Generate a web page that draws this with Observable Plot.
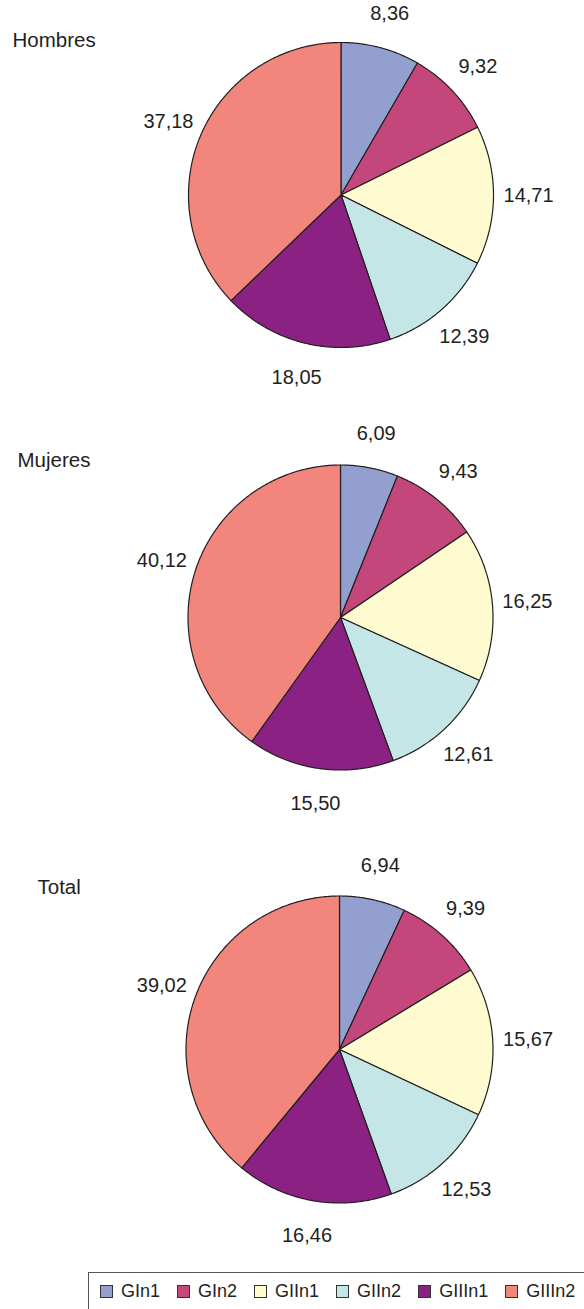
<!DOCTYPE html>
<html>
<head>
<meta charset="utf-8">
<script src="https://cdn.jsdelivr.net/npm/d3@7"></script>
<script src="https://cdn.jsdelivr.net/npm/@observablehq/plot@0.6"></script>
<style>
  html, body { margin: 0; padding: 0; background: #fff; overflow: hidden; }
  #wrap { width: 584px; font-family: "Liberation Sans", Arial, Helvetica, sans-serif; }
  #wrap svg { display: block; }
  .legend {
    margin-left: 88px; width: 520px; height: 50px; box-sizing: border-box;
    border: 1.5px solid #555; display: flex; align-items: center;
    padding-left: 11px; padding-bottom: 11px; font-size: 18px; color: #231f20;
  }
  .legend .item { display: flex; align-items: center; margin-right: 17px; }
  .legend .sw { width: 11px; height: 11px; border: 1px solid #333; margin-right: 8px; }
</style>
</head>
<body>
<div id="wrap"></div>
<script>
const categories = ["GIn1", "GIn2", "GIIn1", "GIIn2", "GIIIn1", "GIIIn2"];
const colors = ["#939fcf", "#c4477b", "#fffbd0", "#c4e6e6", "#8b2283", "#f2857c"];
const groups = ["Hombres", "Mujeres", "Total"];
const hombres = [8.36, 9.32, 14.71, 12.39, 18.05, 37.18];
const mujeres = [6.09, 9.43, 16.25, 12.61, 15.50, 40.12];
const total = [6.94, 9.39, 15.67, 12.53, 16.46, 39.02];
const seriesValues = [hombres, mujeres, total];

// layout only (pixels)
const layouts = [
  {height: 420, cx: 340.5, cy: 194.5, r: 152.5, tx: 12, ty: 46},
  {height: 420, cx: 340, cy: 197, r: 152.5, tx: 17, ty: 46},
  {height: 432, cx: 339, cy: 209, r: 153.5, tx: 37, ty: 53}
];

const fmt = v => d3.format(".2f")(v).replace(".", ",");

function piePlot(title, values, L) {
  const data = values.map((v, i) => ({key: categories[i], value: v}));
  const arcs = d3.pie().sort(null).value(d => d.value)(data);
  const pts = [];
  for (const a of arcs) {
    const n = Math.max(2, Math.ceil((a.endAngle - a.startAngle) * 180 / Math.PI * 2));
    pts.push({key: a.data.key, x: 0, y: 0});
    for (let k = 0; k <= n; k++) {
      const t = a.startAngle + (a.endAngle - a.startAngle) * k / n;
      pts.push({key: a.data.key, x: Math.sin(t), y: Math.cos(t)});
    }
    pts.push({key: a.data.key, x: 0, y: 0});
  }
  const labels = arcs.map(a => {
    const m = (a.startAngle + a.endAngle) / 2;
    return {x: 1.23 * Math.sin(m), y: 1.23 * Math.cos(m), text: fmt(a.data.value)};
  });
  return Plot.plot({
    width: 584,
    height: L.height,
    margin: 0,
    style: {fontFamily: '"Liberation Sans", Arial, Helvetica, sans-serif', background: "#fff"},
    x: {domain: [-1, 1], range: [L.cx - L.r, L.cx + L.r], axis: null},
    y: {domain: [-1, 1], range: [L.cy + L.r, L.cy - L.r], axis: null},
    color: {domain: categories, range: colors},
    marks: [
      Plot.line(pts, {x: "x", y: "y", z: "key", fill: "key", stroke: "#231f20", strokeWidth: 1.2, strokeLinejoin: "round", curve: "linear"}),
      Plot.text(labels, {x: "x", y: "y", text: "text", fontSize: 20, fill: "#231f20", textAnchor: "middle", lineAnchor: "middle"}),
      Plot.text([title], {frameAnchor: "top-left", dx: L.tx, dy: L.ty, text: d => d, fontSize: 20.5, fill: "#231f20", textAnchor: "start", lineAnchor: "bottom"})
    ]
  });
}

const wrap = document.getElementById("wrap");
groups.forEach((g, i) => wrap.appendChild(piePlot(g, seriesValues[i], layouts[i])));

const legend = document.createElement("div");
legend.className = "legend";
categories.forEach((c, i) => {
  const it = document.createElement("div");
  it.className = "item";
  const sw = document.createElement("div");
  sw.className = "sw";
  sw.style.background = colors[i];
  const tx = document.createElement("span");
  tx.textContent = c;
  it.appendChild(sw); it.appendChild(tx);
  legend.appendChild(it);
});
wrap.appendChild(legend);
</script>
</body>
</html>
